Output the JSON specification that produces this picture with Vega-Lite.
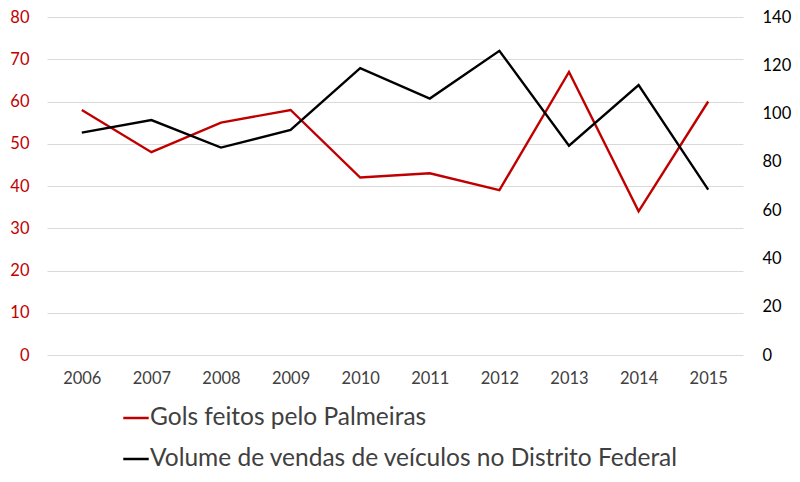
{
  "$schema": "https://vega.github.io/schema/vega-lite/v6.json",
  "description": "Gols feitos pelo Palmeiras vs volume de vendas de veículos no Distrito Federal",
  "width": 696,
  "height": 338,
  "autosize": {"type": "none"},
  "padding": {"left": 47, "top": 17, "right": 57, "bottom": 127},
  "background": "white",
  "config": {
    "font": "Lato",
    "view": {"stroke": null},
    "axis": {"labelFont": "Lato", "labelFontSize": 16.5, "domain": false, "ticks": false}
  },
  "data": {
    "values": [
      {"ano": "2006", "gols": 58, "veiculos": 92.1},
      {"ano": "2007", "gols": 48, "veiculos": 97.3},
      {"ano": "2008", "gols": 55, "veiculos": 85.9},
      {"ano": "2009", "gols": 58, "veiculos": 93.2},
      {"ano": "2010", "gols": 42, "veiculos": 118.8},
      {"ano": "2011", "gols": 43, "veiculos": 106.2},
      {"ano": "2012", "gols": 39, "veiculos": 126},
      {"ano": "2013", "gols": 67, "veiculos": 86.7},
      {"ano": "2014", "gols": 34, "veiculos": 111.8},
      {"ano": "2015", "gols": 60, "veiculos": 68.5}
    ]
  },
  "encoding": {
    "x": {
      "field": "ano",
      "type": "ordinal",
      "title": null,
      "scale": {"type": "point", "padding": 0.5},
      "axis": {"labelAngle": 0, "labelColor": "#404040", "labelPadding": 15, "grid": false}
    }
  },
  "layer": [
    {
      "mark": {"type": "line", "strokeWidth": 2.4},
      "encoding": {
        "y": {
          "field": "gols",
          "type": "quantitative",
          "title": null,
          "scale": {"domain": [0, 80]},
          "axis": {
            "orient": "left",
            "values": [0, 10, 20, 30, 40, 50, 60, 70, 80],
            "labelColor": "#C00000",
            "labelPadding": 18,
            "grid": true,
            "gridColor": "#D9D9D9",
            "gridWidth": 1
          }
        },
        "color": {
          "datum": "Gols feitos pelo Palmeiras",
          "type": "nominal",
          "scale": {
            "domain": ["Gols feitos pelo Palmeiras", "Volume de vendas de veículos no Distrito Federal"],
            "range": ["#C00000", "#000000"]
          },
          "legend": {
            "title": null,
            "orient": "none",
            "legendX": 75,
            "legendY": 387,
            "direction": "vertical",
            "symbolType": "stroke",
            "symbolSize": 650,
            "symbolStrokeWidth": 2.5,
            "labelFont": "Lato",
            "labelFontSize": 24.5,
            "labelColor": "#404040",
            "labelLimit": 700,
            "labelOffset": 0,
            "rowPadding": 15
          }
        }
      }
    },
    {
      "mark": {"type": "line", "strokeWidth": 2.4},
      "encoding": {
        "y": {
          "field": "veiculos",
          "type": "quantitative",
          "title": null,
          "scale": {"domain": [0, 140]},
          "axis": {
            "orient": "right",
            "values": [0, 20, 40, 60, 80, 100, 120, 140],
            "labelColor": "#000000",
            "labelPadding": 19,
            "grid": false
          }
        },
        "color": {
          "datum": "Volume de vendas de veículos no Distrito Federal",
          "type": "nominal"
        }
      }
    }
  ],
  "resolve": {"scale": {"y": "independent"}}
}
